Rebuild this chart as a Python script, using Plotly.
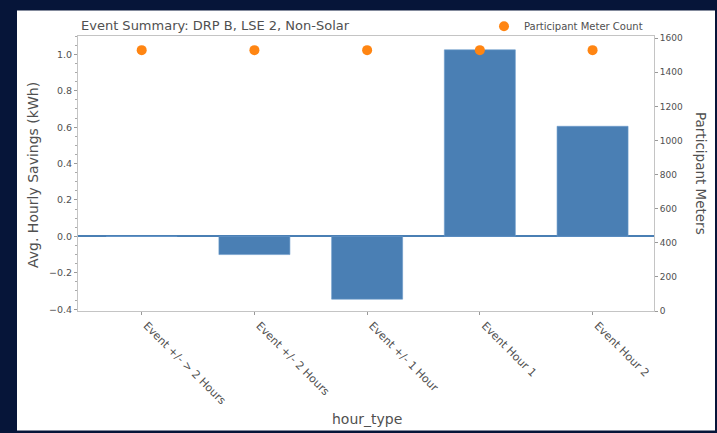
import plotly.graph_objects as go

# Event summary data
hour_types = ["Event +/- > 2 Hours", "Event +/- 2 Hours", "Event +/- 1 Hour",
              "Event Hour 1", "Event Hour 2"]
avg_savings_kwh = [0.0, -0.10, -0.345, 1.025, 0.605]
meter_counts = [1530, 1530, 1530, 1530, 1530]

left_ticks = [-0.4, -0.2, 0.0, 0.2, 0.4, 0.6, 0.8, 1.0]
right_ticks = [0, 200, 400, 600, 800, 1000, 1200, 1400, 1600]

FONT = "DejaVu Sans"
TEXT = "#505050"
SPINE = "#c4c4c4"
BAR = "#4a7fb4"
DOT = "#ff8512"
NAVY = "#061539"

W, H = 717, 433
L, R, T, B = 78, 63, 30, 122
PW, PH = W - L - R, H - T - B


def px(x):
    return (x - L) / PW


def py(y):
    return (H - B - y) / PH


fig = go.Figure()
fig.add_trace(go.Bar(
    x=hour_types, y=avg_savings_kwh, width=0.63,
    marker=dict(color=BAR, line=dict(color="#6a9acb", width=0.6)),
    showlegend=False, yaxis="y",
))
fig.add_trace(go.Scatter(
    x=hour_types, y=meter_counts, mode="markers", yaxis="y2",
    name="Participant Meter Count",
    marker=dict(color=DOT, size=10),
))

fig.update_layout(
    width=W, height=H,
    margin=dict(l=L, r=R, t=T, b=B),
    paper_bgcolor=NAVY, plot_bgcolor="white",
    font=dict(family=FONT, color=TEXT, size=9),
    xaxis=dict(
        type="category", range=[-0.565, 4.545],
        tickangle=45, tickfont=dict(size=11, color=TEXT), ticklabelshift=5,
        ticks="outside", ticklen=3, tickcolor="#999",
        showline=True, linecolor=SPINE, linewidth=1, mirror=True,
        showgrid=False, zeroline=False,
    ),
    yaxis=dict(
        range=[-0.41, 1.101], tickvals=left_ticks,
        ticktext=[("\u2212" + f"{abs(v):.1f}") if v < 0 else f"{v:.1f}" for v in left_ticks],
        ticks="outside", ticklen=3, tickcolor="#999",
        tickfont=dict(size=9.5, color=TEXT),
        minor=dict(dtick=0.05, ticks="outside", ticklen=2, tickcolor="#aaa"),
        showline=True, linecolor=SPINE, linewidth=1,
        showgrid=False, zeroline=True, zerolinecolor=BAR, zerolinewidth=1.5,
    ),
    yaxis2=dict(
        overlaying="y", side="right", range=[0, 1613], tickvals=right_ticks,
        ticks="outside", ticklen=3, tickcolor="#999",
        tickfont=dict(size=9, color=TEXT),
        showline=True, linecolor=SPINE, linewidth=1,
        showgrid=False, zeroline=False,
    ),
    legend=dict(
        x=px(484), y=py(20), xanchor="left", yanchor="middle",
        bgcolor="rgba(0,0,0,0)", font=dict(size=10, color=TEXT),
        itemwidth=30,
    ),
    shapes=[dict(
        type="rect", xref="paper", yref="paper", layer="below",
        x0=px(17), x1=px(715), y0=py(433), y1=py(4),
        fillcolor="white", line=dict(width=0),
    )],
    annotations=[
        dict(text="Event Summary: DRP B, LSE 2, Non-Solar", xref="paper", yref="paper",
             x=px(79), y=py(19), xanchor="left", yanchor="middle", showarrow=False,
             font=dict(size=13, color=TEXT)),
        dict(text="Avg. Hourly Savings (kWh)", xref="paper", yref="paper",
             x=px(33), y=py(172), textangle=-90, xanchor="center", yanchor="middle",
             showarrow=False, font=dict(size=14, color=TEXT)),
        dict(text="Participant Meters", xref="paper", yref="paper",
             x=px(701), y=py(170), textangle=90, xanchor="center", yanchor="middle",
             showarrow=False, font=dict(size=13.5, color=TEXT)),
        dict(text="hour_type", xref="paper", yref="paper",
             x=px(367), y=py(421), xanchor="center", yanchor="middle",
             showarrow=False, font=dict(size=14, color=TEXT)),
    ],
)

fig.write_html("out.html")
